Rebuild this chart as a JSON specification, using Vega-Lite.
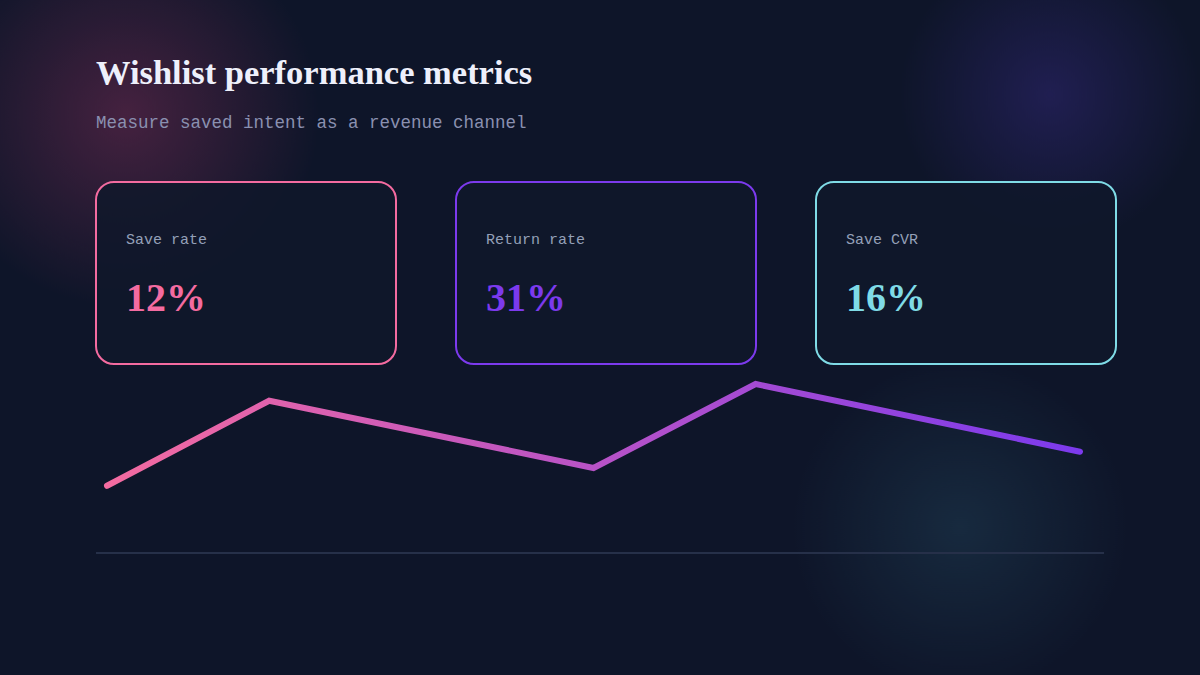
{
  "$schema": "https://vega.github.io/schema/vega-lite/v6.json",
  "width": 1200,
  "height": 675,
  "autosize": {"type": "none"},
  "padding": 0,
  "background": "#0e1529",
  "title": {
    "text": "Wishlist performance metrics",
    "subtitle": "Measure saved intent as a revenue channel",
    "anchor": "start",
    "frame": "group",
    "dx": 96,
    "offset": -132.7,
    "font": "Liberation Serif",
    "fontSize": 34.5,
    "fontWeight": "bold",
    "color": "#eef0fb",
    "subtitleFont": "Liberation Mono",
    "subtitleFontSize": 17.5,
    "subtitleColor": "#8a90b0",
    "subtitlePadding": 23
  },
  "config": {
    "view": {"stroke": null},
    "axis": {"disable": true},
    "legend": {"disable": true}
  },
  "datasets": {
    "cards": [
      {"metric": "Save rate", "rate": 0.12},
      {"metric": "Return rate", "rate": 0.31},
      {"metric": "Save CVR", "rate": 0.16}
    ],
    "trend": [
      {"step": 0, "index": 26.9},
      {"step": 1, "index": 60.9},
      {"step": 3, "index": 34.0},
      {"step": 4, "index": 67.6},
      {"step": 6, "index": 40.5}
    ]
  },
  "resolve": {"scale": {"x": "independent", "y": "independent"}},
  "layer": [
    {
      "data": {"values": [{}]},
      "layer": [
        {
          "mark": {"type": "point", "shape": "circle", "filled": true, "clip": true, "opacity": 1, "strokeWidth": 0, "size": 150000,
            "fill": {"gradient": "radial", "x1": 0.5, "y1": 0.5, "r1": 0, "x2": 0.5, "y2": 0.5, "r2": 0.5,
              "stops": [{"offset": 0, "color": "rgba(232,70,130,0.25)"}, {"offset": 1, "color": "rgba(232,70,130,0)"}]}},
          "encoding": {
            "x": {"datum": 10.5, "type": "quantitative", "scale": {"domain": [0, 100], "range": [0, 1200]}},
            "y": {"datum": 17, "type": "quantitative", "scale": {"domain": [0, 100], "range": [0, 675]}}
          }
        },
        {
          "mark": {"type": "point", "shape": "circle", "filled": true, "clip": true, "opacity": 1, "strokeWidth": 0, "size": 90800,
            "fill": {"gradient": "radial", "x1": 0.5, "y1": 0.5, "r1": 0, "x2": 0.5, "y2": 0.5, "r2": 0.5,
              "stops": [{"offset": 0, "color": "rgba(96,64,224,0.22)"}, {"offset": 1, "color": "rgba(96,64,224,0)"}]}},
          "encoding": {
            "x": {"datum": 87.5, "type": "quantitative", "scale": {"domain": [0, 100], "range": [0, 1200]}},
            "y": {"datum": 14, "type": "quantitative", "scale": {"domain": [0, 100], "range": [0, 675]}}
          }
        },
        {
          "mark": {"type": "point", "shape": "circle", "filled": true, "clip": true, "opacity": 1, "strokeWidth": 0, "size": 113400,
            "fill": {"gradient": "radial", "x1": 0.5, "y1": 0.5, "r1": 0, "x2": 0.5, "y2": 0.5, "r2": 0.5,
              "stops": [{"offset": 0, "color": "rgba(70,150,175,0.16)"}, {"offset": 1, "color": "rgba(70,150,175,0)"}]}},
          "encoding": {
            "x": {"datum": 80, "type": "quantitative", "scale": {"domain": [0, 100], "range": [0, 1200]}},
            "y": {"datum": 78, "type": "quantitative", "scale": {"domain": [0, 100], "range": [0, 675]}}
          }
        }
      ]
    },
    {
      "data": {"name": "cards"},
      "layer": [
        {
          "mark": {"type": "rect", "cornerRadius": 18, "strokeWidth": 2, "fill": "#0f172a", "fillOpacity": 0.85},
          "encoding": {
            "x": {"field": "metric", "type": "nominal", "scale": {"domain": ["Save rate", "Return rate", "Save CVR"], "range": [96, 1116], "paddingInner": 0.16667, "paddingOuter": 0}},
            "y": {"datum": 0, "type": "quantitative", "scale": {"domain": [0, 1], "range": [364, 182]}},
            "y2": {"datum": 1},
            "stroke": {"field": "metric", "type": "nominal", "scale": {"domain": ["Save rate", "Return rate", "Save CVR"], "range": ["#f46ba0", "#7c3aed", "#7fdbe6"]}}
          }
        },
        {
          "mark": {"type": "text", "align": "left", "baseline": "alphabetic", "dx": 30, "font": "Liberation Mono", "fontSize": 15, "color": "#94a0b8"},
          "encoding": {
            "x": {"field": "metric", "type": "nominal", "bandPosition": 0, "scale": {"domain": ["Save rate", "Return rate", "Save CVR"], "range": [96, 1116], "paddingInner": 0.16667, "paddingOuter": 0}},
            "y": {"datum": 0.658, "type": "quantitative", "scale": {"domain": [0, 1], "range": [364, 182]}},
            "text": {"field": "metric"}
          }
        },
        {
          "mark": {"type": "text", "align": "left", "baseline": "alphabetic", "dx": 30, "font": "Liberation Serif", "fontSize": 40, "fontWeight": "bold"},
          "encoding": {
            "x": {"field": "metric", "type": "nominal", "bandPosition": 0, "scale": {"domain": ["Save rate", "Return rate", "Save CVR"], "range": [96, 1116], "paddingInner": 0.16667, "paddingOuter": 0}},
            "y": {"datum": 0.291, "type": "quantitative", "scale": {"domain": [0, 1], "range": [364, 182]}},
            "text": {"field": "rate", "type": "quantitative", "format": ".0%"},
            "color": {"field": "metric", "type": "nominal", "scale": {"domain": ["Save rate", "Return rate", "Save CVR"], "range": ["#f46ba0", "#7c3aed", "#7fdbe6"]}}
          }
        }
      ]
    },
    {
      "layer": [
        {
          "data": {"values": [{}]},
          "mark": {"type": "rule", "color": "#263049", "strokeWidth": 2},
          "encoding": {
            "x": {"datum": -0.068, "type": "quantitative", "scale": {"domain": [0, 6], "range": [107, 1080]}},
            "x2": {"datum": 6.148},
            "y": {"datum": 0, "type": "quantitative", "scale": {"domain": [0, 100], "range": [553, 303]}}
          }
        },
        {
          "data": {"name": "trend"},
          "mark": {"type": "line", "strokeWidth": 6, "strokeCap": "round",
            "stroke": {"gradient": "linear", "x1": 0, "y1": 0, "x2": 1, "y2": 0,
              "stops": [{"offset": 0, "color": "#f46ba0"}, {"offset": 1, "color": "#7c3aed"}]}},
          "encoding": {
            "x": {"field": "step", "type": "quantitative", "scale": {"domain": [0, 6], "range": [107, 1080]}},
            "y": {"field": "index", "type": "quantitative", "scale": {"domain": [0, 100], "range": [553, 303]}}
          }
        }
      ]
    }
  ]
}
